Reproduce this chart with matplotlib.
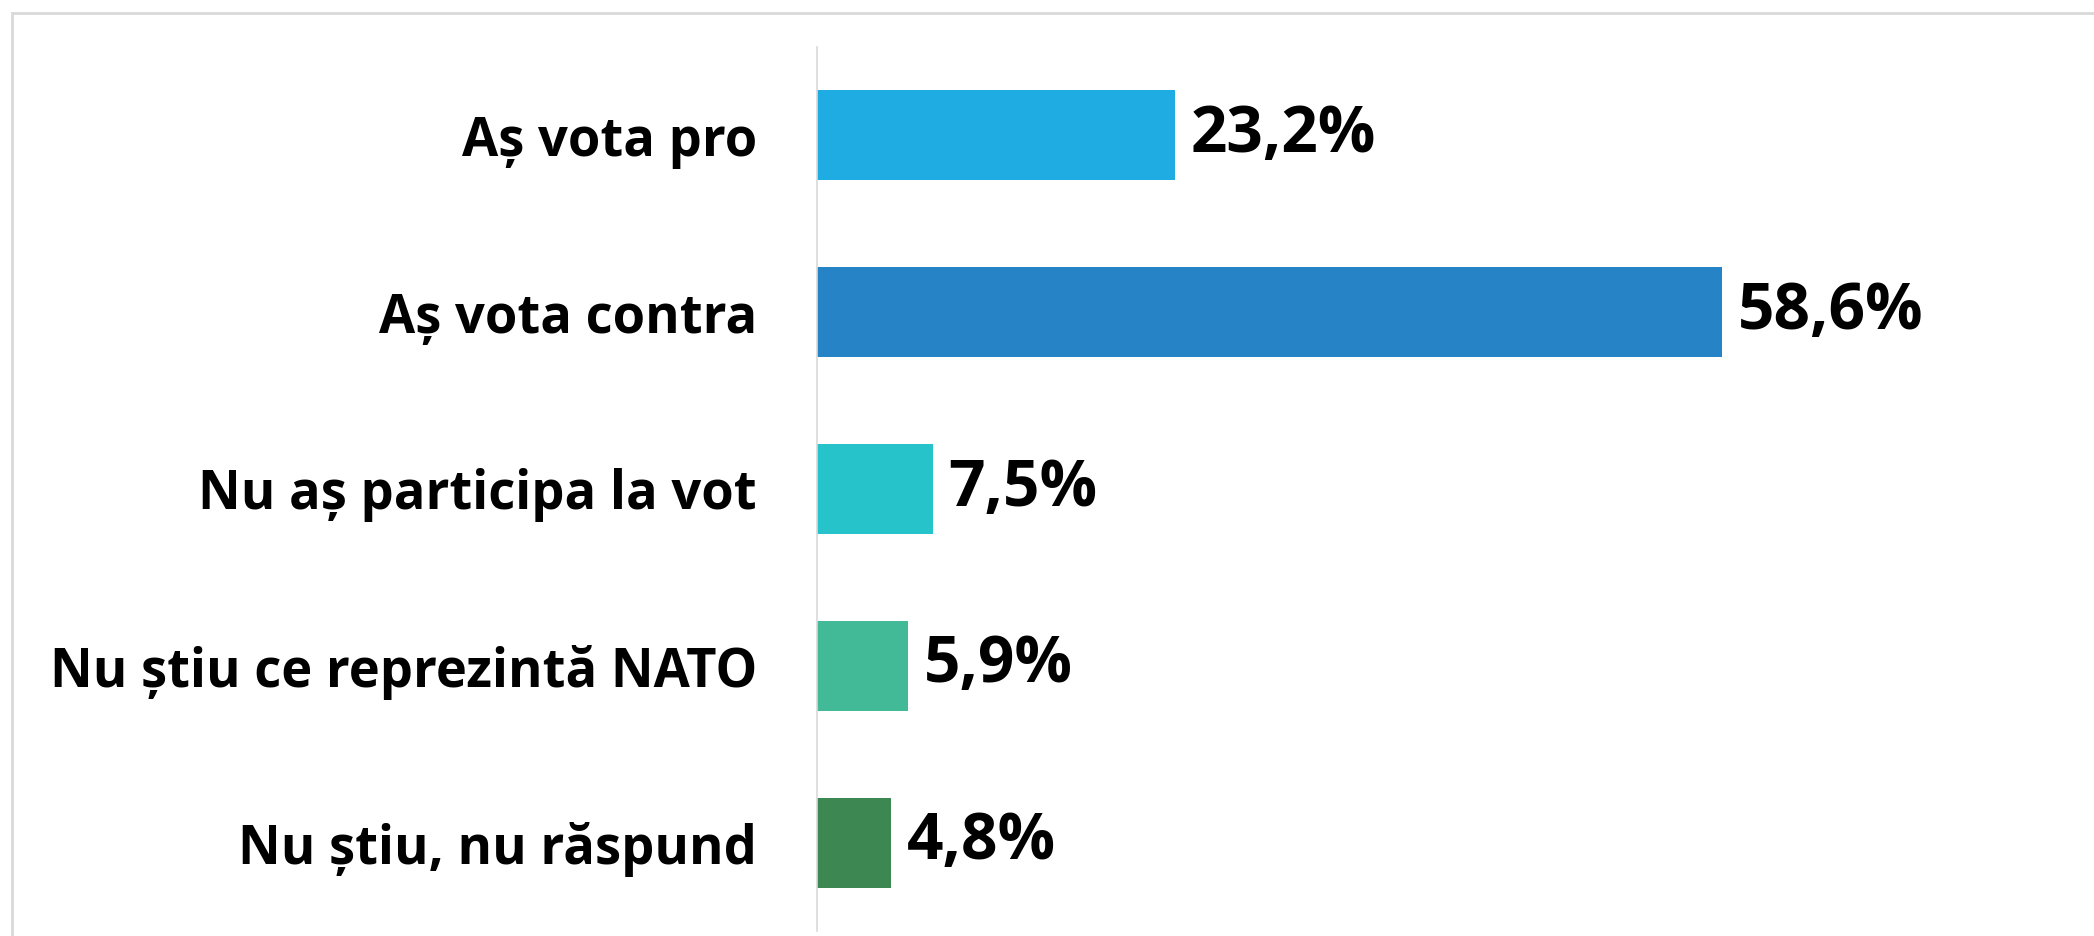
import matplotlib.pyplot as plt
from matplotlib.patches import Rectangle
from matplotlib import font_manager

categories = ["Aș vota pro", "Aș vota contra", "Nu aș participa la vot",
              "Nu știu ce reprezintă NATO", "Nu știu, nu răspund"]
values = [23.2, 58.6, 7.5, 5.9, 4.8]
value_labels = ["23,2%", "58,6%", "7,5%", "5,9%", "4,8%"]
colors = ["#1EACE3", "#2683C6", "#27C3CB", "#43BA97", "#3D8752"]

names = {f.name for f in font_manager.fontManager.ttflist}
family = "Liberation Sans Narrow" if "Liberation Sans Narrow" in names else "Open Sans"
plt.rcParams['font.family'] = [family, 'DejaVu Sans']

W, H = 2094, 936
fig = plt.figure(figsize=(W / 100, H / 100), dpi=100)

# light frame around the chart area (cut off at right and bottom)
fig.patches.append(Rectangle((12 / W, -0.05), 1.1, 1 - 13 / H + 0.05,
                             transform=fig.transFigure, fill=False,
                             edgecolor="#D9D9D9", linewidth=2))

left = 817 / W
ax = fig.add_axes([left, 5 / H, 1 - left, (931 - 47) / H])
px_per_unit = 15.45
ax.set_xlim(0, (W - 817) / px_per_unit)
ax.set_ylim(4.5, -0.5)

y = list(range(len(categories)))
ax.barh(y, values, height=0.51, color=colors)

for yi, v, lab in zip(y, values, value_labels):
    ax.text(v + 1.0, yi, lab, va="center", ha="left",
            fontsize=46, fontweight="bold", color="black")

ax.set_yticks(y)
ax.set_yticklabels(categories, fontsize=37.8, fontweight="bold")
ax.tick_params(axis="y", length=0, pad=60 / 100 * 72)
ax.set_xticks([])
for s in ["top", "right", "bottom"]:
    ax.spines[s].set_visible(False)
ax.spines["left"].set_color("#D9D9D9")
ax.spines["left"].set_linewidth(1.2)

fig.savefig("out.png", dpi=100)
